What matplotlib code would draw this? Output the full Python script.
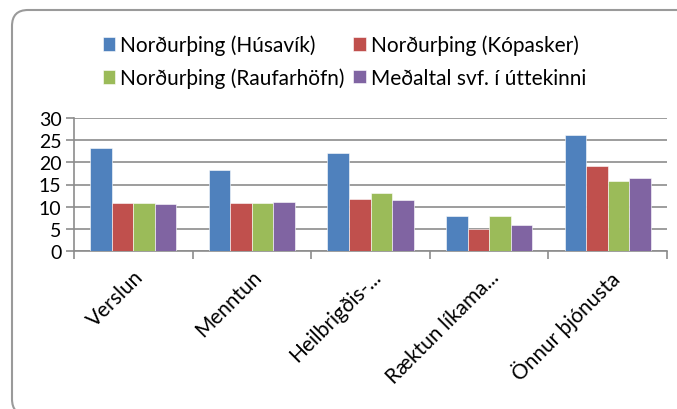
import matplotlib.pyplot as plt
import numpy as np
from matplotlib.patches import FancyBboxPatch

plt.rcParams['font.family'] = ['Lato', 'DejaVu Sans']

# data
categories = ["Verslun", "Menntun", "Heilbrigðis-...", "Ræktun líkama...", "Önnur þjónusta"]
series_names = ["Norðurþing (Húsavík)", "Norðurþing (Kópasker)",
                "Norðurþing (Raufarhöfn)", "Meðaltal svf. í úttekinni"]
husavik = [23.3, 18.2, 22.0, 8.0, 26.1]
kopasker = [10.8, 10.8, 11.8, 5.0, 19.1]
raufarhofn = [10.8, 10.8, 13.0, 8.0, 15.9]
medaltal = [10.5, 11.1, 11.5, 5.8, 16.5]
colors = ["#4F81BD", "#C0504D", "#9BBB59", "#8064A2"]

fig = plt.figure(figsize=(6.77, 4.1), dpi=100)
ax = fig.add_axes([74 / 677, 1 - 252 / 410, (667 - 74) / 677, (252 - 119) / 410])

# rounded chart border
box = FancyBboxPatch((12, -6), 690, 405, boxstyle="round,pad=0,rounding_size=16",
                     transform=None, facecolor="none", edgecolor="#9A9A9A", linewidth=1.5)
fig.patches.append(box)

x = np.arange(len(categories))
w = 1 / 5.5
handles = []
for i, vals in enumerate([husavik, kopasker, raufarhofn, medaltal]):
    b = ax.bar(x + (i - 1.5) * w, vals, width=w, color=colors[i], label=series_names[i],
               edgecolor="white", linewidth=0.4, zorder=3)
    handles.append(b)

ax.set_xlim(-0.5, 4.5)
ax.set_ylim(0, 30)
ax.set_yticks(range(0, 31, 5))
ax.yaxis.grid(True, color="#8C8C8C", linewidth=1.2, zorder=0)
for s in ["top", "right"]:
    ax.spines[s].set_visible(False)
for s in ["left", "bottom"]:
    ax.spines[s].set_color("#8C8C8C")
    ax.spines[s].set_linewidth(1.2)

ax.set_xticks(np.arange(-0.5, 5, 1))
ax.set_xticklabels([])
ax.set_xticks(x, minor=True)
ax.set_xticklabels(categories, minor=True, rotation=45, ha="right", rotation_mode="anchor",
                   fontsize=15)
ax.tick_params(axis="x", which="minor", length=0, pad=11)
ax.tick_params(axis="x", which="major", length=6, color="#8C8C8C", width=1.2)
ax.tick_params(axis="y", length=6, color="#8C8C8C", width=1.2, labelsize=14, pad=3)

order = [0, 2, 1, 3]
fig.legend([handles[i] for i in order], [series_names[i] for i in order],
           loc="upper left", bbox_to_anchor=(84 / 677, 1 - 17 / 410), ncol=2,
           frameon=False, fontsize=15, handlelength=0.6, handleheight=0.6,
           handletextpad=0.25, columnspacing=0.4, labelspacing=0.6)

fig.savefig("out.png", dpi=100)
